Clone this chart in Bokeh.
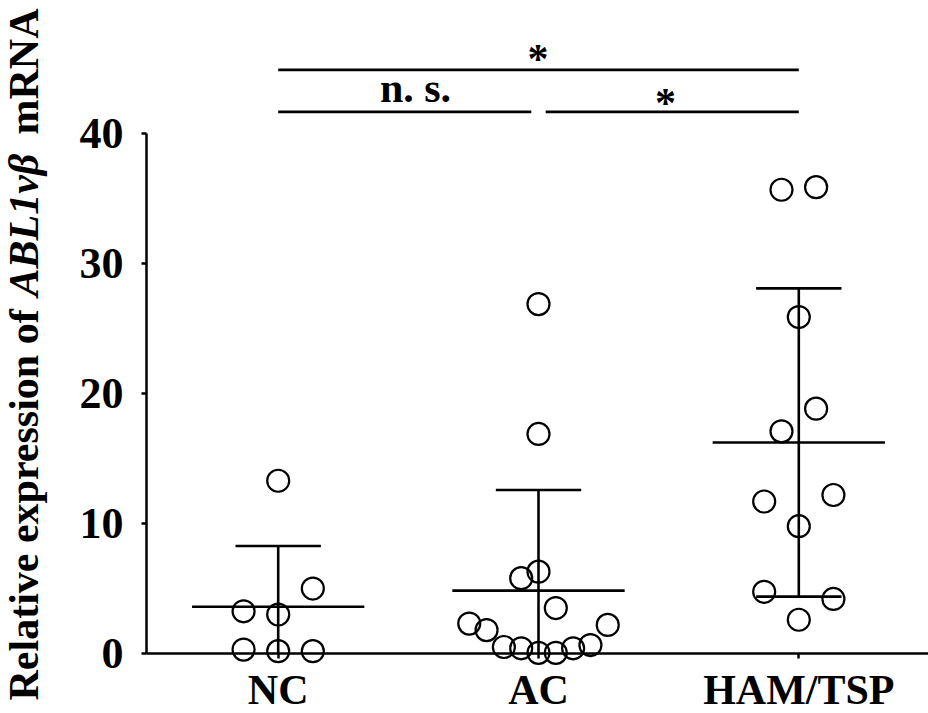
import numpy as np
from math import pi
from bokeh.plotting import figure
from bokeh.models import FixedTicker, Label, LinearAxis
from bokeh.embed import file_html
from bokeh.resources import INLINE

# ---------------- data ----------------
categories = ["NC", "AC", "HAM/TSP"]
nc_values = [13.3, 5.0, 3.25, 3.0, 0.3, 0.18, 0.18]
nc_slots = [0, 2, -2, 0, -2, 0, 2]
ac_values = [26.9, 16.9, 5.8, 6.3, 3.5, 2.3, 1.8, 2.2, 0.5, 0.4, 0.05, 0.05, 0.4, 0.65]
ac_slots = [0, 0, -1, 0, 1, -4, -3, 4, -2, -1, 0, 1, 2, 3]
ham_values = [35.7, 35.9, 25.9, 18.85, 17.1, 11.7, 12.2, 9.8, 4.75, 4.2, 2.6]
ham_slots = [-1, 1, 0, 1, -1, -2, 2, 0, -2, 2, 0]
y_ticks = [0, 10, 20, 30, 40]
comparisons = [("NC", "HAM/TSP", "*"), ("NC", "AC", "n. s."), ("AC", "HAM/TSP", "*")]
title_parts = ["Relative expression of", "ABL1vβ", "mRNA"]

# ---------------- layout constants ----------------
FONT = "Liberation Serif"
W, H = 928, 713
PX_X = 260.3             # px per category
PX_Y = 12.99             # px per y unit
NC_PX = 277.7            # pixel x of first category
ZERO_PX = 653            # pixel y of value 0
AXIS_PX = 146            # pixel x of the y axis
SLOT = 0.0665            # horizontal step of the swarm, in category units
MEAN_HALF = 0.331
CAP_HALF = 0.164

X_START = 1 - NC_PX / PX_X
X_END = X_START + W / PX_X
Y_START = -(H - ZERO_PX) / PX_Y
Y_END = ZERO_PX / PX_Y
Y_AXIS_X = 1 - (NC_PX - AXIS_PX) / PX_X

def px_to_y(py):
    return (ZERO_PX - py) / PX_Y

def px_to_x(px):
    return 1 + (px - NC_PX) / PX_X

groups = [nc_values, ac_values, ham_values]
slot_groups = [nc_slots, ac_slots, ham_slots]
pos = {c: i + 1 for i, c in enumerate(categories)}

p = figure(width=W, height=H, x_range=(X_START, X_END), y_range=(Y_START, Y_END),
           output_backend="svg", toolbar_location=None, tools="",
           x_axis_location=None, y_axis_location=None,
           min_border=0, min_border_left=0, min_border_right=0,
           min_border_top=0, min_border_bottom=0)
p.outline_line_color = None
p.grid.visible = False
p.background_fill_color = "white"
p.border_fill_color = "white"

# points
xs, ys = [], []
for i, (vals, sl) in enumerate(zip(groups, slot_groups)):
    for v, s in zip(vals, sl):
        xs.append(i + 1 + s * SLOT)
        ys.append(v)
p.scatter(x=xs, y=ys, marker="circle", size=22, fill_color=None,
          line_color="black", line_width=2.2)

# mean +/- SD
mx0, mx1, my = [], [], []
vx, vy0, vy1 = [], [], []
cx0, cx1, cy = [], [], []
for i, vals in enumerate(groups):
    m = float(np.mean(vals))
    sd = float(np.std(vals, ddof=1))
    c = i + 1
    mx0.append(c - MEAN_HALF); mx1.append(c + MEAN_HALF); my.append(m)
    lo, hi = m - sd, m + sd
    vx.append(c); vy0.append(max(lo, 0)); vy1.append(hi)
    cx0.append(c - CAP_HALF); cx1.append(c + CAP_HALF); cy.append(hi)
    if lo > 0:
        cx0.append(c - CAP_HALF); cx1.append(c + CAP_HALF); cy.append(lo)
p.segment(x0=mx0, x1=mx1, y0=my, y1=my, line_color="black", line_width=2.6)
p.segment(x0=vx, x1=vx, y0=vy0, y1=vy1, line_color="black", line_width=2.6)
p.segment(x0=cx0, x1=cx1, y0=cy, y1=cy, line_color="black", line_width=2.6)

# significance bars
TOP_BAR, LOW_BAR = px_to_y(69.3), px_to_y(111.3)
GAP = 7.2 / PX_X
bx0, bx1, by = [], [], []
for a, b, lab in comparisons:
    xa, xb = pos[a], pos[b]
    if xb - xa == 2:
        bx0.append(xa); bx1.append(xb); by.append(TOP_BAR)
    elif xa == 1:
        bx0.append(xa); bx1.append(xb - GAP); by.append(LOW_BAR)
    else:
        bx0.append(xa + GAP); bx1.append(xb); by.append(LOW_BAR)
p.segment(x0=bx0, x1=bx1, y0=by, y1=by, line_color="black", line_width=2.7)

# label anchors (pixel x, pixel y of anchor as Bokeh places it)
sig_text_px = [(537.5, 58.3), (415, 87.7), (665, 102)]
for (a, b, lab), (tx, ty) in zip(comparisons, sig_text_px):
    p.add_layout(Label(x=px_to_x(tx), y=px_to_y(ty), text=lab, text_align="center",
                       text_baseline="alphabetic", text_font=FONT,
                       text_font_style="bold", text_font_size="42px", text_color="black"))

# axes drawn at fixed data locations inside the full-canvas frame
xaxis = LinearAxis(fixed_location=0)
yaxis = LinearAxis(fixed_location=Y_AXIS_X)
p.add_layout(xaxis, "below")
p.add_layout(yaxis, "left")
for ax in (xaxis, yaxis):
    ax.axis_line_color = "black"
    ax.axis_line_width = 2.5
    ax.major_tick_line_color = "black"
    ax.major_tick_line_width = 2.5
    ax.major_tick_in = 0
    ax.major_tick_out = 5
    ax.minor_tick_line_color = None
    ax.major_label_text_font = FONT
    ax.major_label_text_font_style = "bold"
    ax.major_label_text_color = "black"

xaxis.ticker = FixedTicker(ticks=[pos[c] for c in categories])
xaxis.major_label_overrides = {pos[c]: c for c in categories}
xaxis.bounds = (Y_AXIS_X, X_END)
xaxis.major_label_text_font_size = "42px"
xaxis.major_label_standoff = 8

yaxis.ticker = FixedTicker(ticks=y_ticks)
yaxis.bounds = (0, 40)
yaxis.major_label_text_font_size = "44px"
yaxis.major_label_standoff = 18

# rotated y-axis title (upright / italic gene name / upright)
title_x = px_to_x(23)
title_page_y = [700, 296, 134]
title_styles = ["bold", "bold italic", "bold"]
for t, py, st in zip(title_parts, title_page_y, title_styles):
    p.add_layout(Label(x=title_x, y=px_to_y(py), text=t, angle=pi / 2,
                       text_align="left", text_baseline="alphabetic",
                       text_font=FONT, text_font_style=st, text_font_size="42px",
                       text_color="black"))

open("out.html", "w").write(file_html(p, INLINE))
